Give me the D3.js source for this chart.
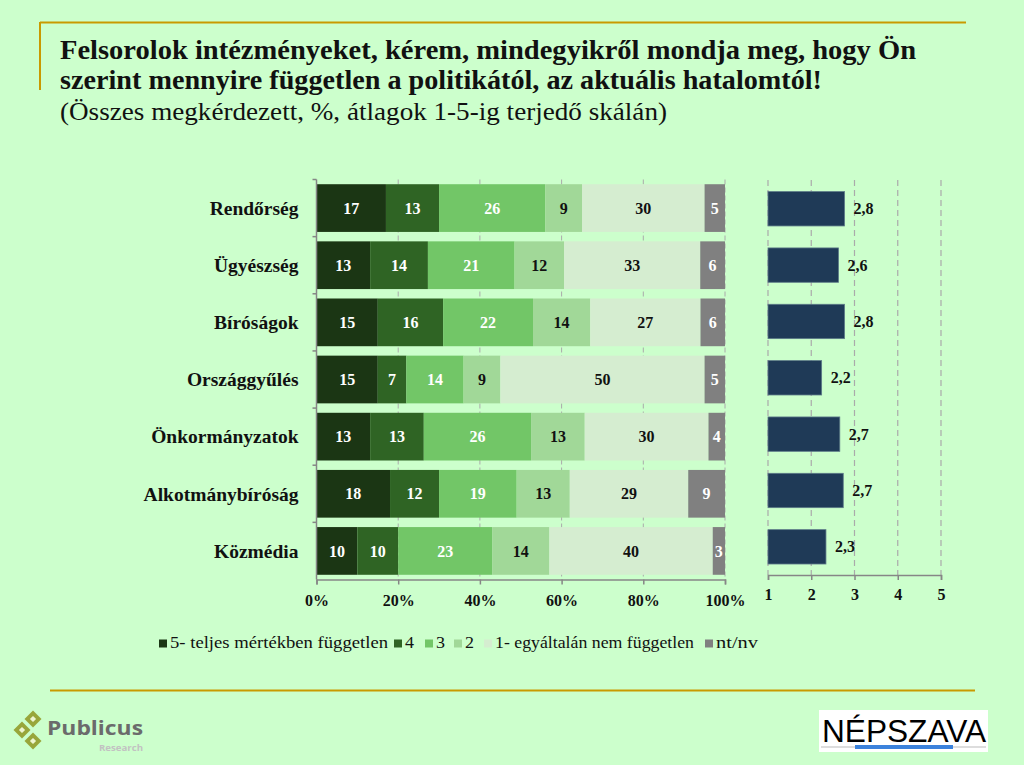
<!DOCTYPE html>
<html>
<head>
<meta charset="utf-8">
<script src="https://cdn.jsdelivr.net/npm/d3@7"></script>
<style>
	html, body { margin: 0; padding: 0; background: #ccffcc; }
	svg { display: block; }
</style>
</head>
<body>
<script>
// ---- data ----
var categories = ["Rendőrség", "Ügyészség", "Bíróságok", "Országgyűlés", "Önkormányzatok", "Alkotmánybíróság", "Közmédia"];
var seriesNames = ["5- teljes mértékben független", "4", "3", "2", "1- egyáltalán nem független", "nt/nv"];
var s5 = [17, 13, 15, 15, 13, 18, 10];
var s4 = [13, 14, 16, 7, 13, 12, 10];
var s3 = [26, 21, 22, 14, 26, 19, 23];
var s2 = [9, 12, 14, 9, 13, 13, 14];
var s1 = [30, 33, 27, 50, 30, 29, 40];
var sNt = [5, 6, 6, 5, 4, 9, 3];
var means = [2.77, 2.63, 2.77, 2.24, 2.66, 2.74, 2.34];
var pctTicks = [0, 0.2, 0.4, 0.6, 0.8, 1];
var meanTicks = [1, 2, 3, 4, 5];

var colors = ["#1b3614", "#2f6424", "#72c667", "#a1d898", "#d5edd0", "#808080"];
var labelColors = ["#fff", "#fff", "#fff", "#111", "#111", "#fff"];

var serif = "'Liberation Serif', 'DejaVu Serif', serif";
var gold = "#c99a00";

var svg = d3.select("body").append("svg")
	.attr("width", 1024)
	.attr("height", 765);

svg.append("rect").attr("width", 1024).attr("height", 765).attr("fill", "#ccffcc");

// frame lines
svg.append("line").attr("x1", 40).attr("x2", 966).attr("y1", 22.5).attr("y2", 22.5)
	.attr("stroke", gold).attr("stroke-width", 2);
svg.append("line").attr("x1", 40).attr("x2", 40).attr("y1", 22).attr("y2", 90)
	.attr("stroke", gold).attr("stroke-width", 2);
svg.append("line").attr("x1", 50).attr("x2", 975).attr("y1", 690.5).attr("y2", 690.5)
	.attr("stroke", gold).attr("stroke-width", 2);

// title
var title = svg.append("g").attr("font-family", serif).attr("fill", "#111");
title.append("text").attr("x", 60).attr("y", 59).attr("font-size", 27).attr("font-weight", "bold")
	.attr("textLength", 856).attr("lengthAdjust", "spacingAndGlyphs")
	.text("Felsorolok intézményeket, kérem, mindegyikről mondja meg, hogy Ön");
title.append("text").attr("x", 60).attr("y", 89).attr("font-size", 27).attr("font-weight", "bold")
	.attr("textLength", 762).attr("lengthAdjust", "spacingAndGlyphs")
	.text("szerint mennyire független a politikától, az aktuális hatalomtól!");
title.append("text").attr("x", 60).attr("y", 120).attr("font-size", 25)
	.attr("textLength", 607).attr("lengthAdjust", "spacingAndGlyphs")
	.text("(Összes megkérdezett, %, átlagok 1-5-ig terjedő skálán)");

//===============================================
// stacked 100% chart
//===============================================
var rows = categories.map(function (c, i) {
	return { cat: c, v0: s5[i], v1: s4[i], v2: s3[i], v3: s2[i], v4: s1[i], v5: sNt[i] };
});
var keys = ["v0", "v1", "v2", "v3", "v4", "v5"];
var stacked = d3.stack().keys(keys).offset(d3.stackOffsetExpand)(rows);

var x0 = d3.scaleLinear().domain([0, 1]).range([316.5, 725]);
var y0 = d3.scaleBand().domain(categories).range([179.5, 579.5]).paddingInner(0.165).paddingOuter(0.0825);

var left = svg.append("g");

left.append("g").selectAll("line")
	.data(pctTicks.slice(1))
	.enter()
	.append("line")
	.attr("x1", function (d) { return x0(d); })
	.attr("x2", function (d) { return x0(d); })
	.attr("y1", 179.5)
	.attr("y2", 579.5)
	.attr("stroke", "#aaa")
	.attr("stroke-dasharray", "5,3");

var layer = left.selectAll("g.layer")
	.data(stacked)
	.enter()
	.append("g")
	.attr("class", "layer")
	.attr("fill", function (d, i) { return colors[i]; });

layer.selectAll("rect")
	.data(function (d) { return d; })
	.enter()
	.append("rect")
	.attr("x", function (d) { return x0(d[0]); })
	.attr("width", function (d) { return x0(d[1]) - x0(d[0]); })
	.attr("y", function (d) { return y0(d.data.cat); })
	.attr("height", y0.bandwidth());

layer.selectAll("text")
	.data(function (d) { var k = d.key; return d.map(function (p) { return { p: p, k: k }; }); })
	.enter()
	.append("text")
	.attr("x", function (d) { return (x0(d.p[0]) + x0(d.p[1])) / 2; })
	.attr("y", function (d) { return y0(d.p.data.cat) + y0.bandwidth() / 2; })
	.attr("dy", "0.35em")
	.attr("text-anchor", "middle")
	.attr("font-family", serif)
	.attr("font-weight", "bold")
	.attr("font-size", 16)
	.attr("fill", function (d) { return labelColors[keys.indexOf(d.k)]; })
	.text(function (d) { return d.p.data[d.k]; });

// axes of the left chart
var axisColor = "#868686";
var bottomAxis = left.append("g")
	.attr("transform", "translate(0,579.5)")
	.call(d3.axisBottom(x0).tickValues(pctTicks).tickSize(5).tickFormat(d3.format(".0%")));
bottomAxis.select(".domain").attr("stroke", axisColor).attr("stroke-width", 1.5);
bottomAxis.selectAll(".tick line").attr("stroke", axisColor).attr("stroke-width", 1.5);
bottomAxis.selectAll("text")
	.attr("font-family", serif).attr("font-weight", "bold").attr("font-size", 16)
	.attr("fill", "#111").attr("dy", null).attr("y", 26);

var leftAxis = left.append("g").attr("transform", "translate(316.5,0)");
leftAxis.append("line").attr("y1", 179.5).attr("y2", 579.5)
	.attr("stroke", axisColor).attr("stroke-width", 1.5);
leftAxis.selectAll("line.tk")
	.data(categories)
	.enter()
	.append("line")
	.attr("class", "tk")
	.attr("x1", -4).attr("x2", 0)
	.attr("y1", function (d) { return y0(d) - y0.step() * 0.0825; })
	.attr("y2", function (d) { return y0(d) - y0.step() * 0.0825; })
	.attr("stroke", axisColor).attr("stroke-width", 1.5);
leftAxis.selectAll("text")
	.data(categories)
	.enter()
	.append("text")
	.attr("x", -18)
	.attr("y", function (d) { return y0(d) + y0.bandwidth() / 2; })
	.attr("dy", "0.35em")
	.attr("text-anchor", "end")
	.attr("font-family", serif).attr("font-weight", "bold").attr("font-size", 19.5)
	.attr("fill", "#111")
	.text(function (d) { return d; });

//===============================================
// means chart
//===============================================
var x1 = d3.scaleLinear().domain([1, 5]).range([768, 941]);
var y1 = d3.scaleBand().domain(categories).range([180.6, 575]).paddingInner(0.39).paddingOuter(0.195);
var right = svg.append("g");

right.append("g").selectAll("line")
	.data(meanTicks)
	.enter()
	.append("line")
	.attr("x1", function (d) { return x1(d); })
	.attr("x2", function (d) { return x1(d); })
	.attr("y1", 180)
	.attr("y2", 575)
	.attr("stroke", "#aaa")
	.attr("stroke-width", 1.2)
	.attr("stroke-dasharray", "6,4");

right.selectAll("rect.mean")
	.data(means)
	.enter()
	.append("rect")
	.attr("class", "mean")
	.attr("x", x1(1))
	.attr("y", function (d, i) { return y1(categories[i]); })
	.attr("width", function (d) { return x1(d) - x1(1); })
	.attr("height", y1.bandwidth())
	.attr("fill", "#1f3a57")
	.attr("stroke", "#5d7a88")
	.attr("stroke-width", 0.8);

var fmt = d3.format(".1f");
right.selectAll("text.mean")
	.data(means)
	.enter()
	.append("text")
	.attr("class", "mean")
	.attr("x", function (d) { return x1(d) + 9; })
	.attr("y", function (d, i) { return y1(categories[i]) + y1.bandwidth() / 2; })
	.attr("dy", "0.35em")
	.attr("font-family", serif).attr("font-weight", "bold").attr("font-size", 16)
	.attr("fill", "#111")
	.text(function (d) { return fmt(d).replace(".", ","); });

var meanAxis = right.append("g")
	.attr("transform", "translate(0,575)")
	.call(d3.axisBottom(x1).tickValues(meanTicks).tickSize(5).tickFormat(d3.format("d")));
meanAxis.select(".domain").attr("stroke", axisColor).attr("stroke-width", 1.5);
meanAxis.selectAll(".tick line").attr("stroke", axisColor).attr("stroke-width", 1.5);
meanAxis.selectAll("text")
	.attr("font-family", serif).attr("font-weight", "bold").attr("font-size", 16)
	.attr("fill", "#111").attr("dy", null).attr("y", 25);

//===============================================
// legend
//===============================================
var legendX = [159, 394, 425, 454, 484, 705];
var legendW = [218, 9, 9, 9, 199, 42];
var legend = svg.append("g").selectAll("g")
	.data(seriesNames)
	.enter()
	.append("g")
	.attr("transform", function (d, i) { return "translate(" + legendX[i] + ",648)"; });
legend.append("rect").attr("x", 0).attr("y", -8.5).attr("width", 8).attr("height", 8)
	.attr("fill", function (d, i) { return colors[i]; });
legend.append("text").attr("x", 11).attr("y", 0)
	.attr("font-family", serif).attr("font-size", 17).attr("fill", "#111")
	.attr("textLength", function (d, i) { return legendW[i]; })
	.attr("lengthAdjust", "spacingAndGlyphs")
	.text(function (d) { return d; });

//===============================================
// logos
//===============================================
var logo = svg.append("g");
[[33, 719], [22, 730], [33, 741]].forEach(function (p) {
	logo.append("rect").attr("x", -6).attr("y", -6).attr("width", 12).attr("height", 12)
		.attr("transform", "translate(" + p[0] + "," + p[1] + ") rotate(45)")
		.attr("fill", "#98a63a");
	logo.append("rect").attr("x", -2.2).attr("y", -2.2).attr("width", 4.4).attr("height", 4.4)
		.attr("transform", "translate(" + p[0] + "," + p[1] + ") rotate(45)")
		.attr("fill", "#eef5d0");
});
logo.append("text").attr("x", 47).attr("y", 735)
	.attr("font-family", "'Open Sans', sans-serif").attr("font-weight", "bold").attr("font-size", 20)
	.attr("fill", "#6b6b6b").attr("textLength", 96).attr("lengthAdjust", "spacingAndGlyphs")
	.text("Publicus");
logo.append("text").attr("x", 99).attr("y", 751)
	.attr("font-family", "'Open Sans', sans-serif").attr("font-weight", "bold").attr("font-size", 8.5)
	.attr("fill", "#c2c2c2").attr("textLength", 44).attr("lengthAdjust", "spacingAndGlyphs")
	.text("Research");

var nep = svg.append("g");
nep.append("rect").attr("x", 819).attr("y", 710).attr("width", 169).attr("height", 42).attr("fill", "#fff");
nep.append("text").attr("x", 822).attr("y", 742)
	.attr("font-family", "'Liberation Sans', sans-serif").attr("font-size", 32)
	.attr("fill", "#000").attr("textLength", 164).attr("lengthAdjust", "spacingAndGlyphs")
	.text("NÉPSZAVA");
nep.append("line").attr("x1", 821).attr("x2", 986).attr("y1", 747).attr("y2", 747)
	.attr("stroke", "#bbb").attr("stroke-width", 1);
nep.append("rect").attr("x", 855).attr("y", 745).attr("width", 98).attr("height", 4).attr("fill", "#3b82dc");
</script>
</body>
</html>
